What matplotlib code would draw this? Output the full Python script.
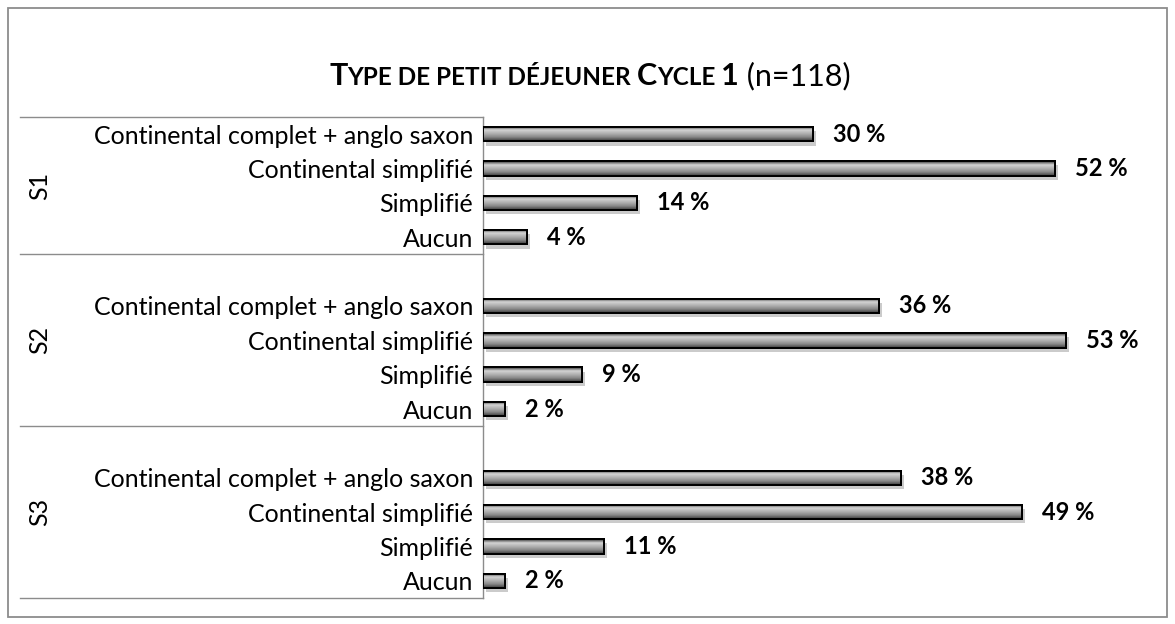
import matplotlib.pyplot as plt
import matplotlib.patheffects as pe
from matplotlib.colors import LinearSegmentedColormap
from matplotlib.transforms import blended_transform_factory
from matplotlib.patches import Rectangle
import numpy as np

plt.rcParams['font.family'] = ['Lato', 'DejaVu Sans']

groups = ['S1', 'S2', 'S3']
categories = ['Continental complet + anglo saxon', 'Continental simplifié', 'Simplifié', 'Aucun']
values = {
    'S1': [30, 52, 14, 4],
    'S2': [36, 53, 9, 2],
    'S3': [38, 49, 11, 2],
}

W, H = 1175, 624
fig = plt.figure(figsize=(W / 100, H / 100), dpi=100)
ax = fig.add_axes([483 / W, 1 - 598 / H, 660 / W, 481 / H])

# outer frame
fig.patches.append(Rectangle((8 / W, 7 / H), 1159 / W, 609 / H, transform=fig.transFigure,
                             fill=False, edgecolor='#8c8c8c', linewidth=1.3))

cmap = LinearSegmentedColormap.from_list('bar', ['#333333', '#d4d4d4', '#b0b0b0', '#858585', '#3a3a3a'])
grad = np.linspace(0, 1, 64).reshape(-1, 1)

ypos, ylabels, bounds = [], [], [0]
start = 0
for gi, g in enumerate(groups):
    if gi > 0:
        start += 1  # empty slot before the group
    for ci, c in enumerate(categories):
        y = start + ci + 0.5
        v = values[g][ci]
        ypos.append(y)
        ylabels.append(c)
        bar = ax.barh(y, v, height=0.42, color='#a0a0a0', edgecolor='black', linewidth=1.4,
                      zorder=3)[0]
        bar.set_path_effects([pe.SimplePatchShadow(offset=(2, -3), alpha=0.25), pe.Normal()])
        im = ax.imshow(grad, cmap=cmap, aspect='auto', zorder=3.5,
                       extent=[0, v, y + 0.21, y - 0.21])
        im.set_clip_path(bar)
        ax.barh(y, v, height=0.42, fill=False, edgecolor='black', linewidth=1.4, zorder=4)
        ax.text(v + 1.8, y, f'{v} %', va='center', ha='left', fontsize=17,
                fontweight='bold', zorder=5)
    start += len(categories)
    bounds.append(start)

ax.set_xlim(0, 60)
ax.set_ylim(bounds[-1], 0)
ax.set_yticks(ypos)
ax.set_yticklabels(ylabels, fontsize=18)
ax.tick_params(axis='y', length=0, pad=7)
ax.set_xticks([])
for s in ['top', 'right', 'bottom']:
    ax.spines[s].set_visible(False)
ax.spines['left'].set_color('#8c8c8c')
ax.spines['left'].set_linewidth(1.0)

# group box lines and labels
tr = blended_transform_factory(fig.transFigure, ax.transData)
for b in bounds:
    ax.plot([20 / W, 483 / W], [b, b], transform=tr, color='#8c8c8c', linewidth=1.0,
            clip_on=False)
for gi, g in enumerate(groups):
    ax.text(40 / W, (bounds[gi] + bounds[gi + 1]) / 2, g, transform=tr, rotation=90,
            ha='center', va='center', fontsize=18)

# title with small caps look
pieces = [('T', 22, 'bold'), ('YPE DE PETIT DÉJEUNER ', 17.5, 'bold'), ('C', 22, 'bold'),
          ('YCLE ', 17.5, 'bold'), ('1', 22, 'bold'), (' (n=118)', 22, 'normal')]
fig.canvas.draw()
r = fig.canvas.get_renderer()
texts = []
for s, fs, fw in pieces:
    t = fig.text(0, 1 - 85 / H, s, fontsize=fs, fontweight=fw, ha='left', va='baseline')
    texts.append(t)
widths = [t.get_window_extent(r).width for t in texts]
x = (590 - sum(widths) / 2)
for t, w in zip(texts, widths):
    t.set_x(x / W)
    x += w

fig.savefig('out.png', dpi=100)
